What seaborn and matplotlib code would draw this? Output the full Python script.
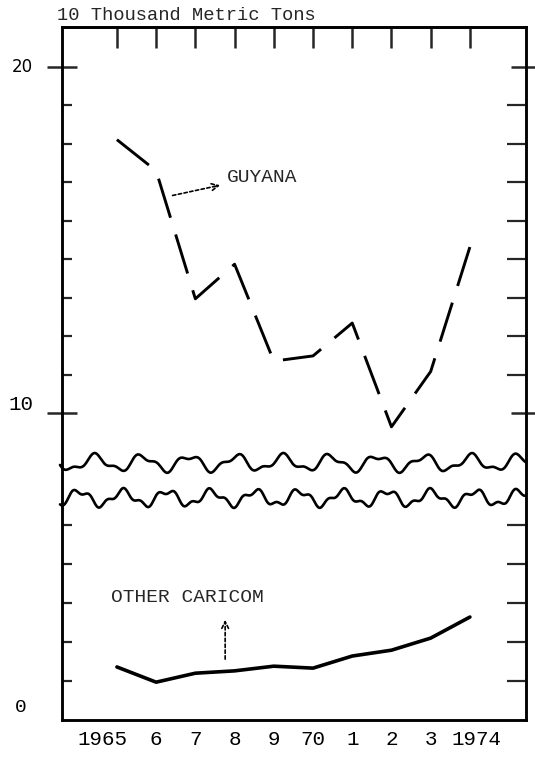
import numpy as np
import pandas as pd
import matplotlib
matplotlib.use("Agg")
import matplotlib.pyplot as plt
import matplotlib.transforms as mtransforms
from matplotlib.lines import Line2D
import seaborn as sns

# ---- data ----
years = [1965, 1966, 1967, 1968, 1969, 1970, 1971, 1972, 1973, 1974]
year_labels = ["1965", "6", "7", "8", "9", "70", "1", "2", "3", "1974"]
guyana = [17.9, 17.0, 13.3, 14.3, 11.5, 11.65, 12.6, 9.6, 11.2, 14.8]
other_caricom = [1.36, 0.97, 1.2, 1.26, 1.38, 1.33, 1.64, 1.79, 2.1, 2.64]
ytick_values = [0, 10, 20]
ytick_labels = ["0", "10", "20"]
title = "10 Thousand Metric Tons"
series_names = ["GUYANA", "OTHER CARICOM"]

df = pd.DataFrame({
    "year": years * 2,
    "value": guyana + other_caricom,
    "series": [series_names[0]] * len(years) + [series_names[1]] * len(years),
})

sns.set_theme(style="white")
MONO = ["Liberation Mono", "DejaVu Sans Mono"]
plt.rcParams["font.family"] = MONO

W, H = 535, 760
fig = plt.figure(figsize=(W / 100, H / 100), dpi=100)
ax = fig.add_axes([62 / W, 1 - 720 / H, (526 - 62) / W, (720 - 27) / H])

# broken vertical scale (lower 0-6 section, compressed break, upper 9-21 section)
bx = [-1000.0, 6.0, 9.0, 1000.0]
bt = [-39000.0, 234.0, 272.4, 307.0 + 34.6 * 990.0]
fwd = lambda y: np.interp(y, bx, bt)
inv = lambda t: np.interp(t, bt, bx)
ax.set_yscale("function", functions=(fwd, inv))
ymax = float(inv(693.0))
ax.set_ylim(0, ymax)
ax.set_xlim(1963.6, 1975.43)

sns.lineplot(data=df[df.series == series_names[0]], x="year", y="value",
             color="black", lw=2.1, ax=ax, legend=False)
ax.lines[-1].set_linestyle((0, (14, 6)))
sns.lineplot(data=df[df.series == series_names[1]], x="year", y="value",
             color="black", lw=2.6, ax=ax, legend=False)

for s in ax.spines.values():
    s.set_visible(True)
    s.set_color("black")
    s.set_linewidth(1.8)

# bottom ticks + labels
ax.set_xticks(years)
ax.set_xticklabels(year_labels, fontsize=15, family=MONO)
ax.tick_params(axis="x", direction="in", length=5, width=1.8, pad=7, colors="black")
ax.set_xlabel("")
ax.set_ylabel("")
labs = ax.get_xticklabels()
labs[0].set_transform(labs[0].get_transform() + mtransforms.ScaledTranslation(-14 / 100, 0, fig.dpi_scale_trans))
labs[-1].set_transform(labs[-1].get_transform() + mtransforms.ScaledTranslation(7 / 100, 0, fig.dpi_scale_trans))

# left ticks
minor_pos = [1, 2, 3, 4, 5] + [10 + k * 10 / 9 for k in range(1, 9)]
ax.set_yticks([10, 20])
ax.set_yticklabels([])
ax.set_yticks(minor_pos, minor=True)
ax.tick_params(axis="y", which="major", direction="inout", length=22, width=1.8)
ax.tick_params(axis="y", which="minor", direction="in", length=7, width=1.6, left=True)

# right ticks
ax2 = ax.twinx()
ax2.set_yscale("function", functions=(fwd, inv))
ax2.set_ylim(0, ymax)
ax2.set_yticks([10, 20])
ax2.set_yticklabels([])
ax2.set_yticks(minor_pos, minor=True)
ax2.tick_params(axis="y", which="major", direction="inout", length=22, width=1.8)
ax2.tick_params(axis="y", which="minor", direction="in", length=14, width=1.6, right=True)
ax2.grid(False)
for s in ax2.spines.values():
    s.set_linewidth(1.8)
    s.set_color("black")

# top ticks
sec = ax.secondary_xaxis("top")
sec.set_xticks(years)
sec.tick_params(direction="in", length=15, width=1.8, labeltop=False)
sec.spines["top"].set_linewidth(1.8)

# y labels (typed beside the ticks)
offsets = {"0": (-41, 12, "Liberation Mono", 14), "10": (-29, 8, "Liberation Mono", 15),
           "20": (-29, 0, "DejaVu Sans", 12)}
for v, lab in zip(ytick_values, ytick_labels):
    dx, dy, fam, fs = offsets[lab]
    ax.annotate(lab, xy=(0, v), xycoords=("axes fraction", "data"),
                xytext=(dx, dy), textcoords="offset pixels",
                ha="right" if lab != "0" else "center", va="center",
                fontsize=fs, family=fam, color="black", annotation_clip=False)

fig.text(57 / W, 1 - 15 / H, title, ha="left", va="center", fontsize=13.5, family=MONO)

# series labels
ax.text(1967.8, 16.8, series_names[0], ha="left", va="center", fontsize=14, family=MONO)
ax.annotate("", xy=(1967.7, 16.6), xytext=(1966.35, 16.27),
            arrowprops=dict(arrowstyle="->", lw=1.2, color="black", linestyle=(0, (2, 1.5))))
ax.text(1964.85, 3.13, series_names[1], ha="left", va="center", fontsize=14, family=MONO)
ax.annotate("", xy=(1967.76, 2.64), xytext=(1967.76, 1.49),
            arrowprops=dict(arrowstyle="->", lw=1.2, color="black", linestyle=(0, (2, 1.5))))

# hand-drawn break marks
xs = np.linspace(60, 526, 800)
up = 463 + 7 * np.sin(2 * np.pi * (xs - 60) / 47) + 3 * np.sin(2 * np.pi * (xs - 60) / 21 + 0.7)
lo = 498 + 7 * np.sin(2 * np.pi * (xs - 60) / 44 + 2.0) + 3 * np.sin(2 * np.pi * (xs - 60) / 17)
for yy in (up, lo):
    fig.add_artist(Line2D(xs / W, 1 - yy / H, color="black", lw=1.9, transform=fig.transFigure))

fig.savefig("out.png", dpi=100, facecolor="white")
